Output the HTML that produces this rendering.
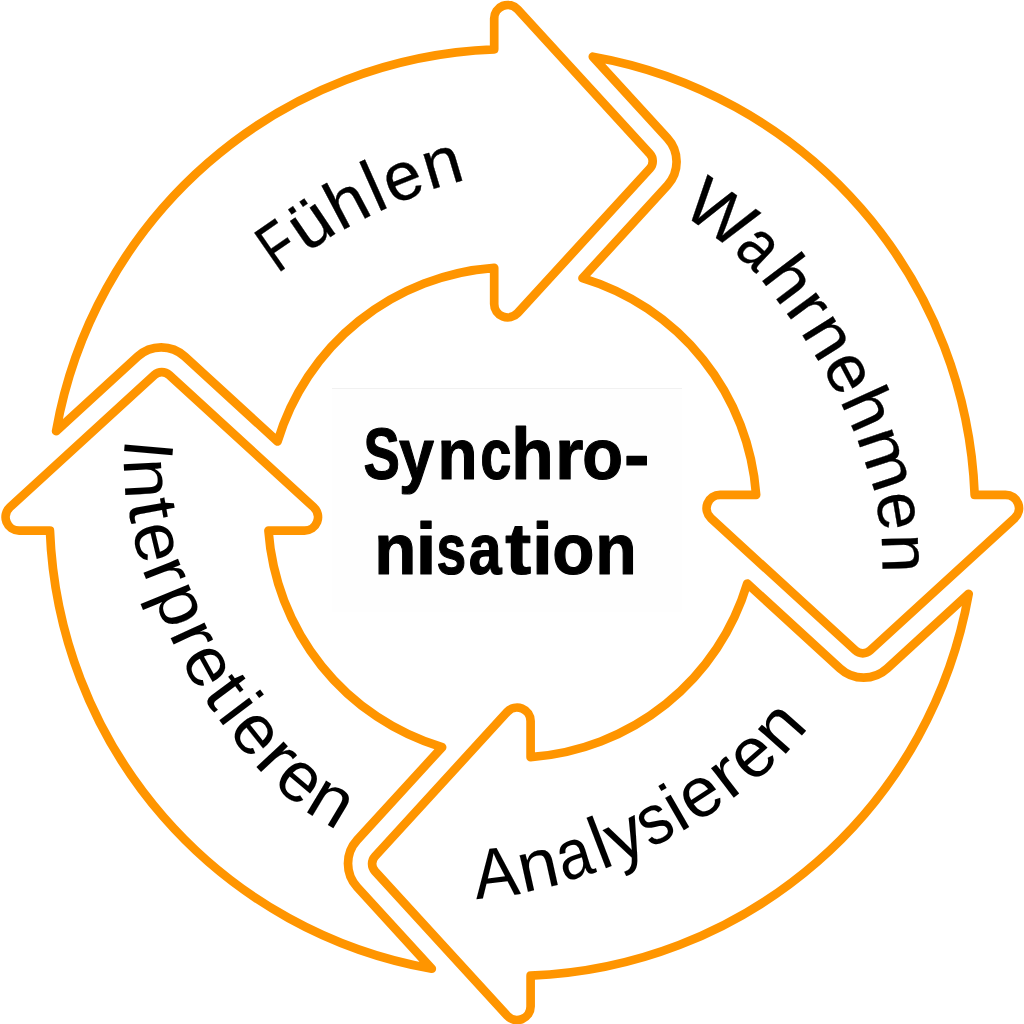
<!DOCTYPE html>
<html lang="de">
<head>
<meta charset="utf-8">
<title>Synchronisation</title>
<style>
html,body{margin:0;padding:0;background:#fff;}
body{width:1024px;height:1024px;overflow:hidden;font-family:"Liberation Sans",sans-serif;}
svg{display:block;}
text{font-family:"Liberation Sans",sans-serif;fill:#000;}
.arrow{fill:#fff;stroke:#FF9500;stroke-width:8.70;stroke-linejoin:round;stroke-linecap:round;}
.lbl text{text-anchor:middle;stroke:#000;stroke-linejoin:round;}
.ctr text{font-weight:bold;text-anchor:start;}
</style>
</head>
<body>
<svg width="1024" height="1024" viewBox="0 0 1024 1024">
<defs>
<path id="arrow" d="M56.11 431.18 A463.00 463.00 0 0 1 494.20 49.34 L494.20 18.50 A13.50 13.50 0 0 1 517.66 9.39 L649.81 153.77 A11.00 11.00 0 0 1 649.81 168.63 L517.66 313.01 A13.50 13.50 0 0 1 494.20 303.90 L494.20 267.85 A244.80 244.80 0 0 0 277.57 441.50 L184.76 356.56 A34.90 34.90 0 0 0 137.64 356.56 Z"/>
</defs>
<rect x="0" y="0" width="1024" height="1024" fill="#fff"/>
<rect x="332" y="388" width="350" height="224" fill="#fefefe"/>
<rect x="332" y="388" width="350" height="1" fill="#f1f1f1"/>
<g id="arrows">
<use href="#arrow" class="arrow" transform="translate(0 0) rotate(0 512 512)"/>
<use href="#arrow" class="arrow" transform="translate(0 0.6) rotate(90 512 512)"/>
<use href="#arrow" class="arrow" transform="translate(0.8 1) rotate(180 512 512)"/>
<use href="#arrow" class="arrow" transform="translate(0.6 0.8) rotate(270 512 512)"/>
</g>
<g class="lbl" id="fuehlen" font-size="68" stroke-width="0.3">
<text transform="translate(290.48 264.71) rotate(-34.73) scale(0.760 1.000)">F</text>
<text transform="translate(322.54 242.32) rotate(-34.25) scale(1.050 1.000)">ü</text>
<text transform="translate(357.42 222.46) rotate(-27.73) scale(1.020 1.000)">h</text>
<text transform="translate(383.94 209.35) rotate(-24.12) scale(1.000 1.080)">l</text>
<text transform="translate(410.17 198.15) rotate(-21.90) scale(1.000 1.000)">e</text>
<text transform="translate(448.00 184.80) rotate(-16.51) scale(1.030 1.000)">n</text>
</g>
<g class="lbl" id="wahr" font-size="68" stroke-width="0.3">
<text transform="translate(707.01 231.61) rotate(35.80) scale(1.040 1.000)">W</text>
<text transform="translate(744.47 262.43) rotate(43.81) scale(0.874 1.000)">a</text>
<text transform="translate(771.21 292.64) rotate(52.77) scale(1.020 1.000)">h</text>
<text transform="translate(791.29 319.90) rotate(53.91) scale(1.100 1.000)">r</text>
<text transform="translate(810.32 347.91) rotate(57.86) scale(1.030 1.000)">n</text>
<text transform="translate(830.21 382.18) rotate(61.85) scale(1.000 1.000)">e</text>
<text transform="translate(847.73 417.72) rotate(65.68) scale(1.020 1.000)">h</text>
<text transform="translate(866.19 465.56) rotate(71.63) scale(1.100 1.000)">m</text>
<text transform="translate(878.42 514.24) rotate(80.45) scale(1.000 1.000)">e</text>
<text transform="translate(882.30 553.65) rotate(88.51) scale(1.030 1.000)">n</text>
</g>
<g class="lbl" id="anal" font-size="70.5" stroke-width="0.05">
<text transform="translate(498.62 896.59) rotate(-6.87) scale(0.960 1.000)">A</text>
<text transform="translate(542.63 888.38) rotate(-12.60) scale(1.030 1.000)">n</text>
<text transform="translate(580.63 876.87) rotate(-17.00) scale(0.883 1.000)">a</text>
<text transform="translate(608.72 867.18) rotate(-20.95) scale(1.000 1.060)">l</text>
<text transform="translate(634.17 856.34) rotate(-25.06) scale(1.020 1.000)">y</text>
<text transform="translate(664.68 840.83) rotate(-28.53) scale(0.900 1.000)">s</text>
<text transform="translate(686.61 828.52) rotate(-29.95) scale(1.000 1.000)">i</text>
<text transform="translate(711.77 813.13) rotate(-33.12) scale(1.000 1.000)">e</text>
<text transform="translate(739.79 793.27) rotate(-37.44) scale(1.100 1.000)">r</text>
<text transform="translate(766.42 771.57) rotate(-41.21) scale(1.000 1.000)">e</text>
<text transform="translate(795.96 742.46) rotate(-48.45) scale(1.030 1.000)">n</text>
</g>
<g class="lbl" id="interp" font-size="70.5" stroke-width="0.05">
<text transform="translate(124.51 447.83) rotate(94.97) scale(1.000 1.000)">I</text>
<text transform="translate(124.43 479.35) rotate(87.10) scale(1.030 1.000)">n</text>
<text transform="translate(129.41 513.88) rotate(79.93) scale(1.120 1.000)">t</text>
<text transform="translate(136.08 547.03) rotate(76.49) scale(1.000 1.000)">e</text>
<text transform="translate(146.31 579.83) rotate(68.33) scale(1.100 1.000)">r</text>
<text transform="translate(159.92 612.59) rotate(67.61) scale(1.030 1.000)">p</text>
<text transform="translate(174.08 645.13) rotate(64.98) scale(1.100 1.000)">r</text>
<text transform="translate(189.51 675.85) rotate(61.01) scale(1.000 1.000)">e</text>
<text transform="translate(207.72 704.31) rotate(53.13) scale(1.120 1.000)">t</text>
<text transform="translate(221.13 722.87) rotate(53.05) scale(1.000 1.000)">i</text>
<text transform="translate(239.16 746.24) rotate(51.41) scale(1.000 1.000)">e</text>
<text transform="translate(261.48 772.39) rotate(47.07) scale(1.100 1.000)">r</text>
<text transform="translate(286.33 796.13) rotate(40.23) scale(1.000 1.000)">e</text>
<text transform="translate(320.02 820.33) rotate(30.93) scale(1.030 1.000)">n</text>
</g>
<g class="ctr" font-size="73" stroke="#000" stroke-width="1.2" stroke-linejoin="round">
<text transform="translate(363.58 478.60) scale(0.748 1)">S</text>
<text transform="translate(399.03 478.60) scale(0.862 1)">y</text>
<text transform="translate(437.47 478.60) scale(0.898 1)">n</text>
<text transform="translate(480.17 478.60) scale(0.769 1)">c</text>
<text transform="translate(511.32 478.60) scale(0.951 1)">h</text>
<text transform="translate(554.89 478.60) scale(1.000 1)">r</text>
<text transform="translate(582.34 478.60) scale(0.915 1)">o</text>
<text transform="translate(623.89 478.60) scale(1.046 1)">-</text>
<text transform="translate(374.13 574.10) scale(0.944 1)">n</text>
<text transform="translate(415.73 574.10) scale(1.016 1)">i</text>
<text transform="translate(436.56 574.10) scale(0.731 1)">s</text>
<text transform="translate(468.75 574.10) scale(0.810 1)">a</text>
<text transform="translate(505.29 574.10) scale(1.066 1)">t</text>
<text transform="translate(531.99 574.10) scale(1.025 1)">i</text>
<text transform="translate(552.27 574.10) scale(0.945 1)">o</text>
<text transform="translate(595.18 574.10) scale(0.930 1)">n</text>
</g>
</svg>
</body>
</html>
